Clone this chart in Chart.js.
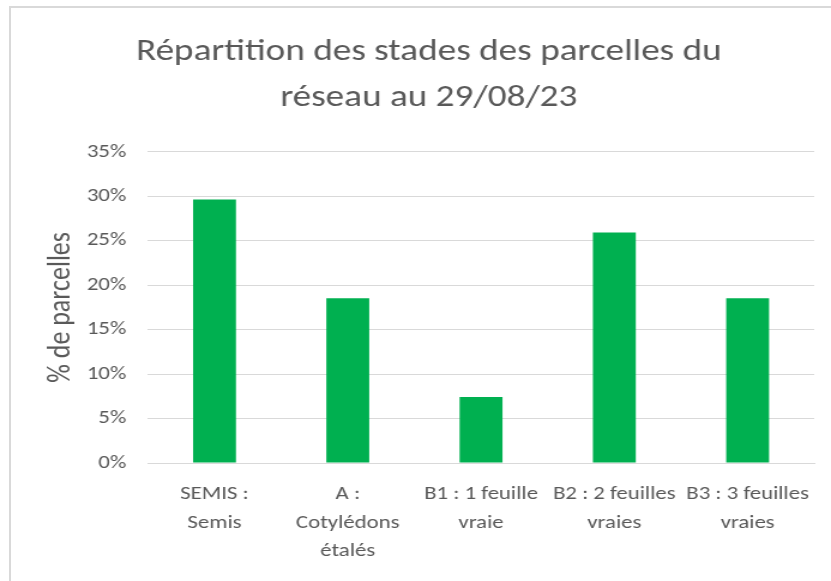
<!DOCTYPE html>
<html>
<head>
<meta charset="utf-8">
<script src="https://cdn.jsdelivr.net/npm/chart.js@4.4.0/dist/chart.umd.min.js"></script>
<style>
  html, body { margin: 0; padding: 0; background: #fff; overflow: hidden; }
  #frame { position: absolute; left: 9px; top: 6px; width: 840px; height: 600px; border: 2px solid #d9d9d9; box-sizing: border-box; }
  /* the reference is a stretched Excel export: draw at 693px wide and widen by 1.2 */
  #wrap { position: absolute; left: 0; top: 0; width: 693px; height: 581px; transform: scaleX(1.1991); transform-origin: 0 0; }
</style>
</head>
<body>
<div id="frame"></div>
<div id="wrap"><canvas id="myChart"></canvas></div>
<script>
var categories = [
  ["SEMIS :", "Semis"],
  ["A :", "Cotylédons", "étalés"],
  ["B1 : 1 feuille", "vraie"],
  ["B2 : 2 feuilles", "vraies"],
  ["B3 : 3 feuilles", "vraies"]
];
var shares = [0.2963, 0.1852, 0.0741, 0.2593, 0.1852];
var yTicks = [0, 0.05, 0.10, 0.15, 0.20, 0.25, 0.30, 0.35];

var fontFam = "Carlito, Calibri, 'Liberation Sans Narrow', sans-serif";
var grey = '#595959';

var ctx = document.getElementById('myChart');
var myChart = new Chart(ctx, {
  type: 'bar',
  data: {
    labels: categories,
    datasets: [{
      label: '% de parcelles',
      data: shares,
      backgroundColor: '#00B050',
      barPercentage: 0.322,
      categoryPercentage: 1.0
    }]
  },
  options: {
    responsive: true,
    maintainAspectRatio: false,
    animation: false,
    layout: { padding: { left: 36, right: 13.8, top: 29, bottom: 0 } },
    plugins: {
      legend: { display: false },
      tooltip: { enabled: false },
      title: {
        display: true,
        text: ['Répartition des stades des parcelles du', 'réseau au 29/08/23'],
        color: grey,
        font: { family: fontFam, size: 31, weight: 'normal', lineHeight: 1.48 },
        padding: { top: 0, bottom: 31 }
      }
    },
    scales: {
      x: {
        grid: { display: false, drawTicks: false },
        border: { display: true, color: '#d9d9d9', width: 1 },
        ticks: {
          color: grey,
          font: { family: fontFam, size: 19, lineHeight: 1.5 },
          maxRotation: 0,
          autoSkip: false,
          padding: 17
        },
        afterFit: function(scale) { scale.height = 118; }
      },
      y: {
        min: 0,
        max: 0.35,
        afterBuildTicks: function(scale) {
          scale.ticks = yTicks.map(function(v) { return { value: v }; });
        },
        grid: { color: '#d9d9d9', drawTicks: false },
        border: { display: false },
        ticks: {
          color: grey,
          font: { family: fontFam, size: 19 },
          padding: 18,
          callback: function(v) { return Math.round(v * 100) + '%'; }
        },
        title: {
          display: true,
          text: '% de parcelles',
          color: grey,
          font: { family: fontFam, size: 26, weight: 'normal', lineHeight: 1.2 },
          padding: 0
        },
        afterFit: function(scale) { scale.width = 87.3; }
      }
    }
  }
});
</script>
</body>
</html>
